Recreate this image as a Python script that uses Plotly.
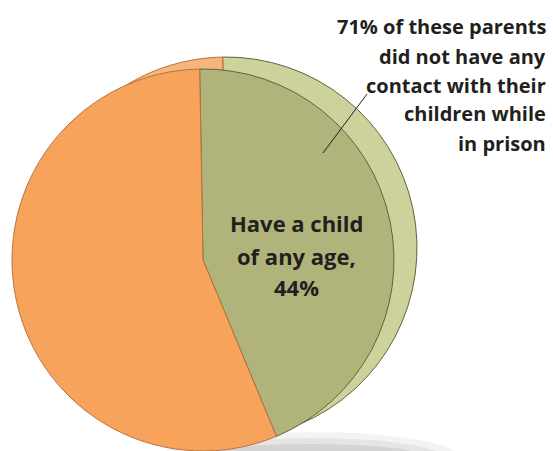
import plotly.graph_objects as go

# ---- data ----
slice_labels = ["Have a child of any age", "No child"]
slice_values = [44, 56]
center_label_lines = ["Have a child", "of any age,", "44%"]
note_lines = ["71% of these parents", "did not have any", "contact with their",
              "children while", "in prison"]

W, H = 553, 451

def px_x(x):
    return x / W

def px_y(y):
    return 1 - y / H

front_colors = ["#B0B47B", "#F7A35C"]
back_colors = ["#CDD19B", "#F6B57C"]
edge_colors = ["#5E6438", "#B9733E"]

fig = go.Figure()

# back (depth) layer
fig.add_trace(go.Pie(
    labels=slice_labels, values=slice_values, sort=False, direction="clockwise",
    rotation=-1, textinfo="none", hoverinfo="skip", showlegend=False,
    marker=dict(colors=back_colors, line=dict(color=edge_colors, width=1)),
    domain=dict(x=[px_x(35), px_x(417)], y=[px_y(439), px_y(57)]),
))
# front layer
fig.add_trace(go.Pie(
    labels=slice_labels, values=slice_values, sort=False, direction="clockwise",
    rotation=-1, textinfo="none", hoverinfo="skip", showlegend=False,
    marker=dict(colors=front_colors, line=dict(color=edge_colors, width=1)),
    domain=dict(x=[px_x(12), px_x(394)], y=[0, px_y(69)]),
))

annotations = []
font_c = dict(family="Open Sans", size=22, color="#231F20")
for i, line in enumerate(center_label_lines):
    base = [230, 263, 294][i]
    annotations.append(dict(
        text="<b>%s</b>" % line, x=px_x(296), y=px_y(base - 7),
        xref="paper", yref="paper", xanchor="center", yanchor="middle",
        showarrow=False, font=font_c))

font_n = dict(family="Open Sans", size=20, color="#231F20")
for i, line in enumerate(note_lines):
    base = [33, 63, 91, 120, 149][i]
    annotations.append(dict(
        text="<b>%s</b>" % line, x=px_x(548), y=px_y(base - 6),
        xref="paper", yref="paper", xanchor="right", yanchor="middle",
        showarrow=False, font=font_n))

shapes = []
# soft shadow under the pie
for k, (rx, ry, op) in enumerate([(150, 26, 0.07), (135, 20, 0.09), (118, 14, 0.12)]):
    shapes.append(dict(type="circle", xref="paper", yref="paper", layer="below",
                       x0=px_x(310 - rx), x1=px_x(310 + rx),
                       y0=px_y(458 + ry), y1=px_y(458 - ry),
                       fillcolor="rgba(90,90,100,%s)" % op, line=dict(width=0)))
# leader line
shapes.append(dict(type="line", xref="paper", yref="paper",
                   x0=px_x(367), y0=px_y(94), x1=px_x(323), y1=px_y(153),
                   line=dict(color="#231F20", width=1)))

fig.update_layout(
    width=W, height=H, margin=dict(l=0, r=0, t=0, b=0),
    paper_bgcolor="white", plot_bgcolor="white",
    annotations=annotations, shapes=shapes,
)

fig.write_html("out.html", config={"displayModeBar": False},
               post_script="document.body.style.margin='0';")
